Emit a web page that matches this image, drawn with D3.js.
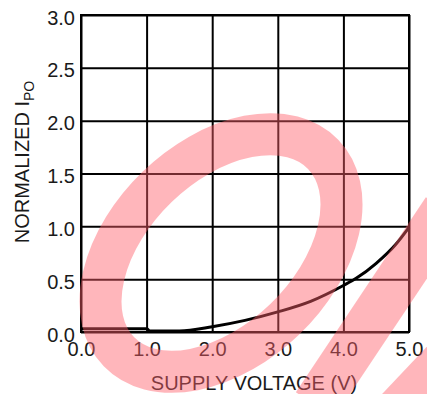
<!DOCTYPE html>
<html>
<head>
<meta charset="utf-8">
<script src="https://cdn.jsdelivr.net/npm/d3@7"></script>
<style>
  body { margin: 0; background: #fff; }
  text { font-family: "Liberation Sans", Arial, sans-serif; fill: #1a1a1a; }
</style>
</head>
<body>
<div id="chart"></div>
<script>
// data
const voltage = [0.0, 1.0, 1.05, 1.5, 2.0, 2.5, 3.0, 3.5, 4.0, 4.2, 4.5, 4.8, 5.0];
const ipo     = [0.03, 0.03, 0.01, 0.01, 0.05, 0.11, 0.19, 0.29, 0.44, 0.51, 0.65, 0.83, 0.99];
const xTicks = [0, 1, 2, 3, 4, 5];
const yTicks = [0, 0.5, 1.0, 1.5, 2.0, 2.5, 3.0];

const margin = { top: 15, right: 18, bottom: 62, left: 81 };
const W = 427, H = 394;
const width = W - margin.left - margin.right;
const height = H - margin.top - margin.bottom;

const svg = d3.select("#chart").append("svg")
    .attr("width", W)
    .attr("height", H);

const g = svg.append("g")
    .attr("transform", `translate(${margin.left},${margin.top})`);

const x = d3.scaleLinear().domain([0, 5]).range([0, width]);
const y = d3.scaleLinear().domain([0, 3]).range([height, 0]);

// grid + tick labels
const xAxis = g.append("g")
    .attr("transform", `translate(0,${height})`)
    .call(d3.axisBottom(x).tickValues(xTicks).tickSize(-height).tickPadding(10)
        .tickFormat(d3.format(".1f")));
const yAxis = g.append("g")
    .call(d3.axisLeft(y).tickValues(yTicks).tickSize(-width).tickPadding(6)
        .tickFormat(d3.format(".1f")));

[xAxis, yAxis].forEach(a => {
    a.select(".domain").remove();
    a.selectAll("line").attr("stroke", "#000").attr("stroke-width", 2);
    a.selectAll("text").style("font-size", "20px").attr("fill", "#1a1a1a");
});
yAxis.selectAll("text").attr("dy", "0.45em");

g.append("rect")
    .attr("width", width)
    .attr("height", height)
    .attr("fill", "none")
    .attr("stroke", "#000")
    .attr("stroke-width", 2);

// curve
const pts = voltage.map((v, i) => ({ v, c: ipo[i] }));
const line = d3.line()
    .x(d => x(d.v))
    .y(d => y(d.c))
    .curve(d3.curveMonotoneX);

g.append("path")
    .datum(pts)
    .attr("d", line)
    .attr("fill", "none")
    .attr("stroke", "#000")
    .attr("stroke-width", 3);

// axis titles
svg.append("text")
    .attr("x", 254)
    .attr("y", 390)
    .attr("text-anchor", "middle")
    .style("font-size", "20px")
    .text("SUPPLY VOLTAGE (V)");

const yt = svg.append("text")
    .attr("transform", "translate(29,162) rotate(-90)")
    .attr("text-anchor", "middle")
    .style("font-size", "20px");
yt.append("tspan").text("NORMALIZED I");
yt.append("tspan").attr("dy", 5).style("font-size", "14px").text("PO");

// pink watermark over everything
const wm = svg.append("g")
    .attr("fill", "none")
    .attr("stroke", "rgb(255,96,107)")
    .attr("opacity", 0.45);

wm.append("ellipse")
    .attr("transform", "translate(221,253) rotate(-44)")
    .attr("rx", 142)
    .attr("ry", 92)
    .attr("stroke-width", 42);

wm.append("line")
    .attr("x1", 445).attr("y1", 210)
    .attr("x2", 315).attr("y2", 405)
    .attr("stroke-width", 46);

wm.append("line")
    .attr("x1", 475).attr("y1", 325)
    .attr("x2", 385).attr("y2", 420)
    .attr("stroke-width", 40);
</script>
</body>
</html>
